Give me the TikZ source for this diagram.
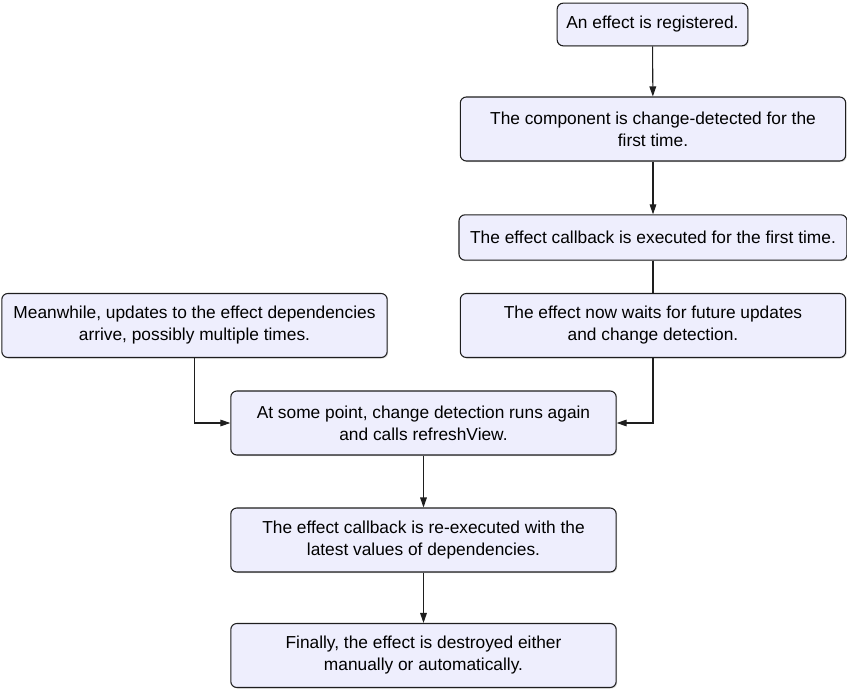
\documentclass[tikz,border=0pt]{standalone}
\usepackage{fontspec}
\setmainfont{Liberation Sans}
\usepackage{xcolor}
\usepackage{tikz}
\usetikzlibrary{arrows.meta, positioning, shadows}

\definecolor{boxfill}{RGB}{238,238,253}
\definecolor{boxline}{RGB}{30,30,30}

\begin{document}
\begin{tikzpicture}[
    x=0.75pt, y=-0.75pt,
    stage/.style={rectangle, draw=boxline, line width=0.8pt, fill=boxfill, rounded corners=4.5pt, inner sep=0pt,
        align=center, font=\fontsize{13}{16.5}\selectfont, minimum width=289pt, minimum height=48pt,
        drop shadow={shadow xshift=0.8pt, shadow yshift=-0.8pt, opacity=0.25}},
    flow/.style={-{Triangle[length=7.5pt, width=5pt]}, boxline, line width=0.8pt},
]
\useasboundingbox (0,0) rectangle (847,689);

% right column
\node[stage, minimum width=143pt, minimum height=32pt] (reg) at (652.5,24.5) {An effect is registered.};
\node[stage] (first) at (653,129) {The component is change-detected for the\\first time.};
\node[stage, minimum width=291pt, minimum height=34pt] (exec) at (653,237.5) {The effect callback is executed for the first time.};
\node[stage] (wait) at (653,325.5) {The effect now waits for future updates\\and change detection.};

% left side
\node[stage] (upd) at (194.5,325.5) {Meanwhile, updates to the effect dependencies\\arrive, possibly multiple times.};

% bottom column
\node[stage] (again) at (423.5,423) {At some point, change detection runs again\\and calls refreshView.};
\node[stage] (reexec) at (423.5,540) {The effect callback is re-executed with the\\latest values of dependencies.};
\node[stage] (final) at (423.5,655.5) {Finally, the effect is destroyed either\\manually or automatically.};

% Arrows
\draw[flow] (reg) -- (first);
\draw[flow] (first) -- (exec);
\draw[boxline, line width=0.8pt] (exec) -- (wait);
\draw[flow] (wait.south) |- (again.east);
\draw[flow] (upd.south) |- (again.west);
\draw[flow] (again) -- (reexec);
\draw[flow] (reexec) -- (final);

\end{tikzpicture}
\end{document}
